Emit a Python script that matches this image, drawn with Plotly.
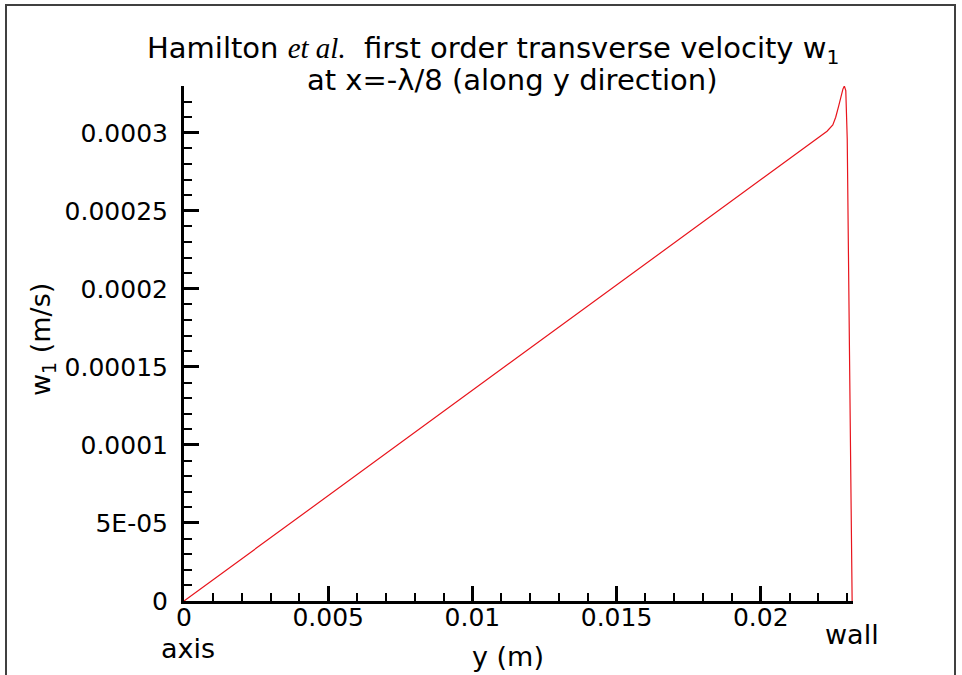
import plotly.graph_objects as go

# Radial position across the tube (m) and first-order transverse velocity w1 (m/s)
y_pos = [0.0, 0.005, 0.010, 0.015, 0.020, 0.0215, 0.0220, 0.0223, 0.0225,
         0.0226, 0.0227, 0.0228, 0.02285, 0.0229, 0.02295, 0.0230, 0.02305,
         0.0231, 0.02317]
w1 = [0.0, 6.74e-5, 1.348e-4, 2.022e-4, 2.696e-4, 2.898e-4, 2.966e-4, 3.01e-4,
      3.05e-4, 3.10e-4, 3.17e-4, 3.25e-4, 3.28e-4, 3.30e-4, 3.27e-4, 2.96e-4,
      2.0e-4, 1.1e-4, 0.0]

x_tick_vals = [0, 0.005, 0.01, 0.015, 0.02]
x_tick_text = ["0", "0.005", "0.01", "0.015", "0.02"]
y_tick_vals = [0, 5e-5, 1e-4, 1.5e-4, 2e-4, 2.5e-4, 3e-4]
y_tick_text = ["0", "5E-05", "0.0001", "0.00015", "0.0002", "0.00025", "0.0003"]

FONT = "DejaVu Sans, Liberation Sans, sans-serif"
W, H = 962, 675
ML, MR, MT, MB = 184, 109, 86, 74
PW, PH = W - ML - MR, H - MT - MB


def px(x):
    return (x - ML) / PW


def py(y):
    return (H - MB - y) / PH


fig = go.Figure()
fig.add_trace(go.Scatter(x=y_pos, y=w1, mode="lines",
                         line=dict(color="#e8141c", width=1.2),
                         showlegend=False, hoverinfo="skip"))

axis_common = dict(showline=True, linecolor="black", linewidth=3,
                   showgrid=False, zeroline=False, ticks="inside",
                   ticklen=15, tickwidth=2.5, tickcolor="black",
                   tickfont=dict(family=FONT, size=25, color="black"))

fig.update_xaxes(range=[0, 0.0232], tickvals=x_tick_vals, ticktext=x_tick_text,
                 ticklabelstandoff=-8,
                 minor=dict(dtick=0.001, tick0=0, ticks="inside", ticklen=8,
                            tickwidth=1.5, tickcolor="black"),
                 **axis_common)
fig.update_yaxes(range=[0, 0.00033], tickvals=y_tick_vals, ticktext=y_tick_text,
                 ticklabelstandoff=8,
                 minor=dict(dtick=1e-5, tick0=0, ticks="inside", ticklen=8,
                            tickwidth=1.5, tickcolor="black"),
                 **axis_common)

LABEL = dict(family=FONT, size=27, color="black")
TITLE = dict(family=FONT, size=29, color="black")
annotations = [
    dict(text="Hamilton <i><span style='font-family:Liberation Serif'>et al.</span></i>"
              "  first order transverse velocity w<sub>1</sub>",
         x=px(493), y=py(50), xanchor="center", yanchor="middle", font=TITLE),
    dict(text="at x=-λ/8 (along y direction)",
         x=px(512), y=py(80), xanchor="center", yanchor="middle", font=TITLE),
    dict(text="w<sub>1</sub> (m/s)", textangle=-90, x=px(42), y=py(340),
         xanchor="center", yanchor="middle", font=LABEL),
    dict(text="y (m)", x=px(508), y=py(656), xanchor="center", yanchor="middle",
         font=LABEL),
    dict(text="axis", x=px(188), y=py(648), xanchor="center", yanchor="middle",
         font=LABEL),
    dict(text="wall", x=px(852), y=py(634), xanchor="center", yanchor="middle",
         font=LABEL),
]
for a in annotations:
    a.update(xref="paper", yref="paper", showarrow=False)

fig.update_layout(
    width=W, height=H,
    margin=dict(l=ML, r=MR, t=MT, b=MB),
    paper_bgcolor="white", plot_bgcolor="white",
    annotations=annotations,
    shapes=[dict(type="rect", xref="paper", yref="paper",
                 x0=px(6), x1=px(955), y0=py(690), y1=py(5),
                 line=dict(color="#404040", width=2), layer="below")],
)

fig.write_html("out.html")
